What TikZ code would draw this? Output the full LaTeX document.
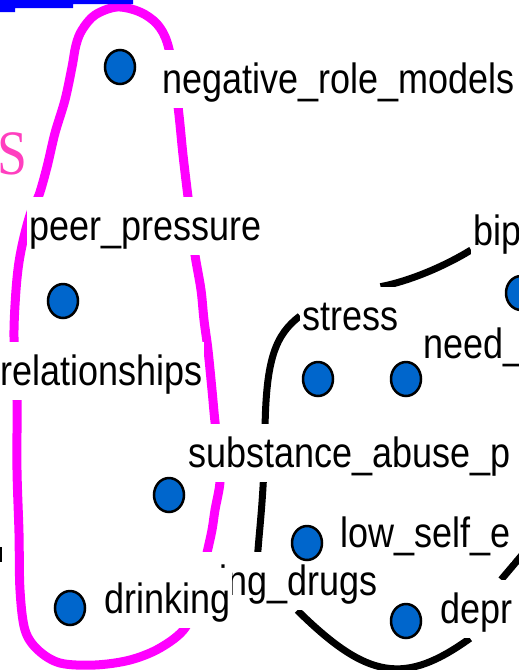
\documentclass[tikz,border=0pt]{standalone}
\usepackage{fontspec}
\newfontfamily\mapfont[FakeStretch=0.85]{Liberation Sans}
\newfontfamily\titlefont[FakeStretch=0.85]{Liberation Serif}
\usetikzlibrary{shapes.geometric, positioning, calc, backgrounds}
\definecolor{dotblue}{HTML}{0066CC}
\definecolor{groupmag}{HTML}{FF00FF}
\definecolor{titlepink}{HTML}{FF3FBF}
\definecolor{barblue}{HTML}{0000FF}

\tikzset{
  concept/.style={fill=white, inner xsep=0.04cm, inner ysep=0.1cm, text height=0.76cm, text depth=0.2cm,
    font=\mapfont\fontsize{24.1}{28}\selectfont, anchor=base west},
  dot/.style={ellipse, draw=black, fill=dotblue, line width=0.05cm, minimum width=0.6cm, minimum height=0.68cm, inner sep=0pt},
  link/.style={line width=0.14cm, black},
  group/.style={line width=0.18cm, groupmag}
}

\begin{document}
\begin{tikzpicture}[x=0.02cm, y=-0.02cm]
  \useasboundingbox (0,0) rectangle (519,670);
  \clip (0,0) rectangle (519,670);

  % rest of the title
  \fill[barblue] (0,0) -- (133,0) -- (133,4) -- (73,4) -- (73,8) -- (15,8) -- (15,12) -- (0,12) -- cycle;
  \node[anchor=base west, inner sep=0pt, text=titlepink, font=\titlefont\fontsize{36}{40}\selectfont] (title) at (-3,174) {S};

  % concepts
  \node[concept] (negative) at (160,93) {negative\_role\_models};
  \node[concept] (peer) at (27,240) {peer\_pressure};
  \node[concept] (relations) at (-2,385) {relationships};
  \node[concept] (subst) at (186,467) {substance\_abuse\_p};
  \node[concept] (stress) at (300,330) {stress};
  \node[concept] (need) at (421,358) {need\_};
  \node[concept] (bip) at (471,245) {bip};
  \node[concept] (low) at (338,547) {low\_self\_e};
  \node[concept, anchor=base east, text width=3.66cm, align=right] (drugs) at (380,595) {ing\_drugs};
  \node[concept] (drinking) at (102,613) {drinking};
  \node[concept] (depr) at (438,623) {depr};

  % dots
  \node[dot] (negdot) at (120,67) {};
  \node[dot] (peerdot) at (63,301) {};
  \node[dot] (substdot) at (169,495) {};
  \node[dot] (drinkdot) at (70,608) {};
  \node[dot] (stressdot) at (318,379) {};
  \node[dot] (needdot) at (406,379) {};
  \node[dot] (bipdot) at (521,293) {};
  \node[dot] (lowdot) at (307,543) {};
  \node[dot] (deprdot) at (406,621) {};

  \begin{scope}[on background layer]
    % group outline
    \draw[group] plot[smooth cycle, tension=0.55] coordinates {
      (117,7) (140,12) (157,24) (167,42) (174,75) (179,115) (183,155) (188,197)
      (192,228) (195,255) (201,290) (204,320) (208,350) (212,390) (215,422)
      (219,455) (220,482) (215,510) (212,530) (207,553) (198,595) (185,628)
      (160,648) (130,660) (95,665) (60,663) (38,650) (25,630) (20,590) (19,533)
      (17,470) (17,400) (15,370) (14,330) (16,290) (19,262) (24,237) (31,212)
      (39,195) (47,167) (55,133) (65,100) (72,67) (76,45) (82,30) (95,15)};

    % links
    \draw[link] ($(stress.north)!0.6!(stress.north east)$) .. controls (410,281) and (445,266) .. ($(bip.base west)+(0,5)$);
    \draw[link] (stress.west) .. controls (275,335) and (266,360) .. (265,430)
      .. controls (264,500) and (259,530) .. ($(drugs.north west)+(65,8)$);
    \draw[link] ($(drugs.south west)+(105,0)$) .. controls (368,680) and (405,685) .. ($(depr.south west)+(32,0)$);
    \coordinate (offright) at (560,510);
    \draw[link] (depr) -- (offright);
    \draw[line width=0.05cm] (1,547) -- (1,562);
  \end{scope}
\end{tikzpicture}
\end{document}
